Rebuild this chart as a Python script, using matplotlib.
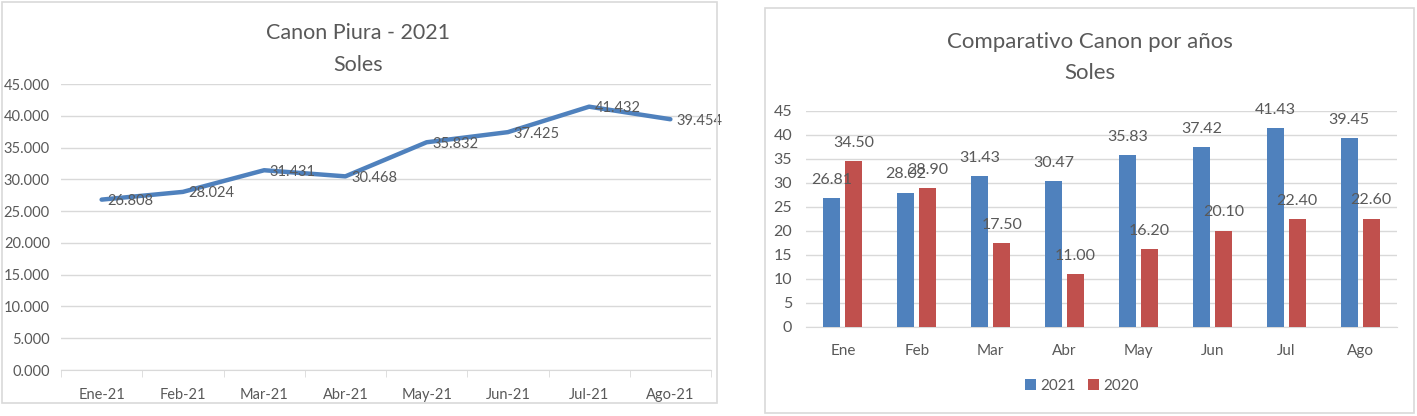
import matplotlib.pyplot as plt
from matplotlib.patches import Rectangle
from matplotlib.ticker import FuncFormatter, MultipleLocator
import numpy as np

plt.rcParams['font.family'] = ['Lato', 'DejaVu Sans']

# data
meses_21 = ["Ene-21", "Feb-21", "Mar-21", "Abr-21", "May-21", "Jun-21", "Jul-21", "Ago-21"]
canon_2021 = [26808, 28024, 31431, 30468, 35832, 37425, 41432, 39454]

meses = ["Ene", "Feb", "Mar", "Abr", "May", "Jun", "Jul", "Ago"]
comp_2021 = [26.81, 28.02, 31.43, 30.47, 35.83, 37.42, 41.43, 39.45]
comp_2020 = [34.50, 28.90, 17.50, 11.00, 16.20, 20.10, 22.40, 22.60]

W, H = 1417, 416
txt = "#595959"
grid = "#d9d9d9"
blue = "#4f81bd"
red = "#c0504d"

fig = plt.figure(figsize=(W / 100, H / 100), dpi=100)

# panel borders
fig.patches.append(Rectangle((2 / W, 1 - 403 / H), 715 / W, 401 / H, transform=fig.transFigure,
                             fill=False, ec=grid, lw=1.2))
fig.patches.append(Rectangle((765 / W, 1 - 413 / H), 649 / W, 405 / H, transform=fig.transFigure,
                             fill=False, ec=grid, lw=1.2))

def miles(v, pos=None):
    return f"{v / 1000:.3f}"

# ---- left: line chart
ax1 = fig.add_axes([61 / W, 1 - 370 / H, (711 - 61) / W, (370 - 84) / H])
x = np.arange(len(meses_21))
ax1.plot(x, canon_2021, color=blue, lw=3.2, solid_capstyle="round", zorder=3)
for xi, v in zip(x, canon_2021):
    ax1.annotate(miles(v), (xi, v), xytext=(4, -1), textcoords="offset points",
                 ha="left", va="center", fontsize=10.5, color=txt, zorder=4)
ax1.set_xlim(-0.5, 7.5)
ax1.set_ylim(0, 45000)
ax1.yaxis.set_major_locator(MultipleLocator(5000))
ax1.yaxis.set_major_formatter(FuncFormatter(miles))
ax1.set_xticks(x)
ax1.set_xticklabels(meses_21)
ax1.set_xticks(np.arange(-0.5, 8, 1), minor=True)
ax1.tick_params(axis="x", which="major", length=0, pad=13, labelsize=10.5, labelcolor=txt)
ax1.tick_params(axis="x", which="minor", length=5, color=grid, direction="out")
ax1.tick_params(axis="y", length=0, pad=8, labelsize=10.5, labelcolor=txt)
ax1.grid(axis="y", color=grid, lw=1)
ax1.set_axisbelow(True)
for s in ["top", "right", "left"]:
    ax1.spines[s].set_visible(False)
ax1.spines["bottom"].set_color(grid)
fig.text(358 / W, 1 - 33 / H, "Canon Piura - 2021", ha="center", va="center", fontsize=15.5, color=txt)
fig.text(358 / W, 1 - 65 / H, "Soles", ha="center", va="center", fontsize=15.5, color=txt)

# ---- right: bar chart
ax2 = fig.add_axes([806 / W, 1 - 327 / H, (1397 - 806) / W, (327 - 111) / H])
x2 = np.arange(len(meses))
w = 0.23
off = 0.149
b1 = ax2.bar(x2 - off, comp_2021, w, color=blue, label="2021", zorder=3)
b2 = ax2.bar(x2 + off, comp_2020, w, color=red, label="2020", zorder=3)
for bars, vals in ((b1, comp_2021), (b2, comp_2020)):
    for r, v in zip(bars, vals):
        ax2.annotate(f"{v:.2f}", (r.get_x() + r.get_width() / 2, v), xytext=(0, 13),
                     textcoords="offset points", ha="center", va="center",
                     fontsize=11.5, color=txt, zorder=4)
ax2.set_xlim(-0.5, 7.5)
ax2.set_ylim(0, 45)
ax2.yaxis.set_major_locator(MultipleLocator(5))
ax2.set_xticks(x2)
ax2.set_xticklabels(meses)
ax2.tick_params(axis="x", length=0, pad=12, labelsize=11, labelcolor=txt)
ax2.tick_params(axis="y", length=0, pad=10, labelsize=11.5, labelcolor=txt)
ax2.grid(axis="y", color=grid, lw=1)
ax2.set_axisbelow(True)
for s in ["top", "right", "left"]:
    ax2.spines[s].set_visible(False)
ax2.spines["bottom"].set_color(grid)
leg = fig.legend(handles=[b1, b2], loc="center", bbox_to_anchor=(1082 / W, 1 - 386 / H), ncol=2,
                 frameon=False, fontsize=11, handlelength=0.7, handleheight=0.7,
                 handletextpad=0.3, columnspacing=0.8, labelcolor=txt)
fig.text(1090 / W, 1 - 42 / H, "Comparativo Canon por años", ha="center", va="center", fontsize=16, color=txt)
fig.text(1090 / W, 1 - 73 / H, "Soles", ha="center", va="center", fontsize=16, color=txt)

fig.savefig("out.png", dpi=100)
